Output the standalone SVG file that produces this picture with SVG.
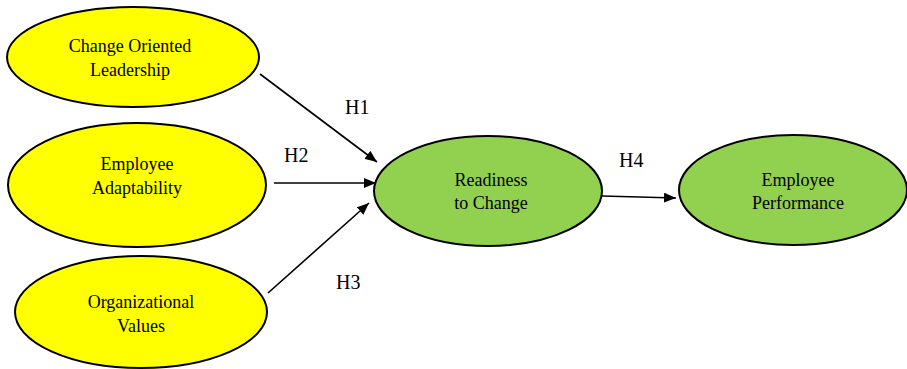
<svg xmlns="http://www.w3.org/2000/svg" width="907" height="369" viewBox="0 0 907 369">
<defs>
<style>
.y{fill:#FFFF00;stroke:#000;stroke-width:2}
.g{fill:#92D050;stroke:#000;stroke-width:2}
.t{font-size:18px;fill:#000;text-anchor:middle}
.h{font-size:20px;fill:#000}
.c{stroke:#000;stroke-width:1.6;fill:none;marker-end:url(#ah)}
</style>
<marker id="ah" viewBox="0 0 12 10" refX="12" refY="5" markerWidth="12" markerHeight="10" markerUnits="userSpaceOnUse" orient="auto">
<path d="M0,0 L12,5 L0,10 Z" fill="#000"/>
</marker>
</defs>
<rect width="907" height="369" fill="#fff"/>
<g font-family="'Liberation Serif', 'Times New Roman', serif">
<g id="connectors">
<line class="c" x1="260" y1="74" x2="377" y2="162"/>
<line class="c" x1="274" y1="183" x2="376" y2="183"/>
<line class="c" x1="268" y1="293" x2="369" y2="203"/>
<line class="c" x1="602" y1="196" x2="676" y2="198"/>
<text class="h" x="345" y="114">H1</text>
<text class="h" x="284" y="162">H2</text>
<text class="h" x="336" y="289">H3</text>
<text class="h" x="619" y="167">H4</text>
</g>
<g id="node-col">
<ellipse class="y" cx="133" cy="57" rx="126" ry="50"/>
<text class="t" x="130" y="52">Change Oriented</text>
<text class="t" x="130" y="76">Leadership</text>
</g>
<g id="node-ea">
<ellipse class="y" cx="137" cy="185" rx="129" ry="62"/>
<text class="t" x="137" y="170">Employee</text>
<text class="t" x="137" y="194">Adaptability</text>
</g>
<g id="node-ov">
<ellipse class="y" cx="141" cy="312" rx="126" ry="56"/>
<text class="t" x="141" y="308">Organizational</text>
<text class="t" x="141" y="332">Values</text>
</g>
<g id="node-rtc">
<ellipse class="g" cx="488" cy="191" rx="114" ry="55"/>
<text class="t" x="491" y="186">Readiness</text>
<text class="t" x="491" y="209">to Change</text>
</g>
<g id="node-ep">
<ellipse class="g" cx="793" cy="190" rx="114" ry="55"/>
<text class="t" x="798" y="186">Employee</text>
<text class="t" x="798" y="209">Performance</text>
</g>
</g>
</svg>
